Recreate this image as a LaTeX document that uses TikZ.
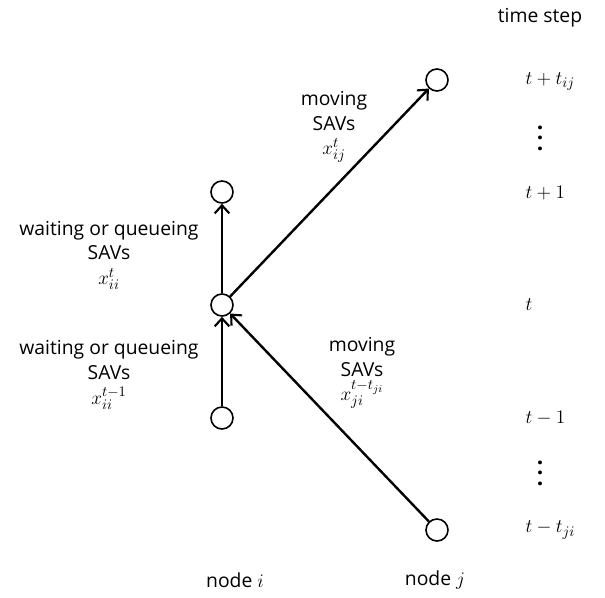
\documentclass[tikz,border=0pt]{standalone}
\usepackage{fontspec}
\setmainfont{Open Sans}
\usetikzlibrary{arrows.meta}
\newcommand\mth[1]{{\fontsize{15.5}{18.5}\selectfont$#1$}}
\newcommand\tdots{\vbox{\baselineskip7.9pt\lineskiplimit0pt\hbox{.}\hbox{.}\hbox{.}}}
\tikzset{
  vtx/.style={draw, circle, line width=1.2pt, minimum size=16.5pt, inner sep=0pt},
  flow/.style={line width=1.8pt, -{Straight Barb[length=6pt, width=11pt, line width=1.6pt]}},
  lbl/.style={align=center, inner sep=1pt, font=\fontsize{14.5}{18.5}\selectfont},
  vdot/.style={inner sep=0pt, font=\fontsize{17}{17}\bfseries},
}

\begin{document}
\begin{tikzpicture}[x=0.75pt, y=-0.75pt]
			%%%%% START %%%%%
			\useasboundingbox (0, 0) rectangle (605, 597);
			
			\node[vtx] (itop) at (222, 192) {};
			\node[vtx] (imid) at (222, 305) {};
			\node[vtx] (ibot) at (222, 418) {};
			\node[vtx] (jtop) at (437, 80) {};
			\node[vtx] (jbot) at (437, 530) {};
			
			\draw[flow] (ibot) -- (imid);
			\draw[flow] (imid) -- (itop);
			\draw[flow] (imid) -- (jtop);
			\draw[flow] (jbot) -- (imid);
			
			\node[lbl] (waitup) at (109, 255) {waiting or queueing\\SAVs\\\mth{x_{ii}^{t}}};
			\node[lbl] (waitdn) at (109, 375) {waiting or queueing\\SAVs\\\mth{x_{ii}^{t-1}}};
			\node[lbl] (moveij) at (334, 127) {moving\\SAVs\\\mth{x_{ij}^{t}}};
			\node[lbl] (moveji) at (362, 373) {moving\\SAVs\\\mth{x_{ji}^{t-t_{ji}}}};
			
			\node[lbl] (step) at (540, 18) {time step};
			\node[lbl, anchor=west] (tpij) at (524, 82) {\mth{t+t_{ij}}};
			\node[vdot] (dotsup) at (540, 138) {\tdots};
			\node[lbl, anchor=west] (tp1) at (524, 193) {\mth{t+1}};
			\node[lbl, anchor=west] (tnow) at (524, 305) {\mth{t}};
			\node[lbl, anchor=west] (tm1) at (524, 418) {\mth{t-1}};
			\node[vdot] (dotsdn) at (540, 473) {\tdots};
			\node[lbl, anchor=west] (tmji) at (524, 530) {\mth{t-t_{ji}}};
			
			\node[lbl] (nodei) at (235, 580) {node \mth{i}};
			\node[lbl] (nodej) at (435, 580) {node \mth{j}};
			%%%%% END %%%%%
\end{tikzpicture}
\end{document}
